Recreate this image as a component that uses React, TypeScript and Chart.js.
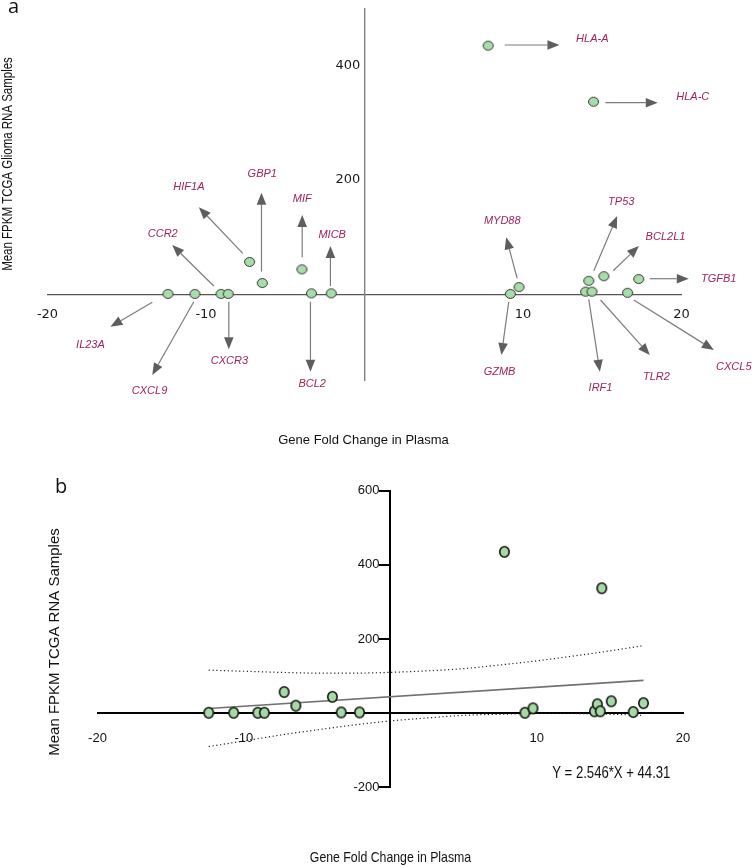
import React, { useEffect, useRef } from 'react';
import { Chart, registerables } from 'chart.js';
Chart.register(...registerables);

// ---------- data ----------
const genes = ['IL23A', 'CXCL9', 'CCR2', 'CXCR3', 'HIF1A', 'GBP1', 'MIF', 'BCL2', 'MICB', 'GZMB', 'MYD88', 'IRF1', 'TP53', 'TLR2', 'BCL2L1', 'CXCL5', 'TGFB1', 'HLA-A', 'HLA-C'];
const foldChange = [-12.4, -10.7, -9.05, -8.6, -7.25, -6.45, -3.95, -3.35, -2.1, 9.2, 9.75, 13.95, 14.15, 14.35, 15.1, 16.6, 17.3, 7.8, 14.45];
const fpkm = [1, 1, 1, 1, 57, 20, 44, 2, 2, 1, 13, 5, 24, 5, 32, 3, 27, 435, 337];

// linear fit and 95% band
const fitX = [-12.4, 17.3];
const fitY = [12.7, 88.4];
const bandX = [-12.4, -10, -7.5, -5, -2.5, 0, 2.5, 5, 7.5, 10, 12.5, 15, 17.3];
const bandUpper = [116, 113, 110, 108, 108, 110, 114, 120, 130, 141, 154, 168, 182];
const bandLower = [-90, -75, -59, -45, -32, -21, -13, -6, -3, -1, -1, -3, -6];
const fitEquation = 'Y = 2.546*X + 44.31';

const aXTicks = [-20, -10, 10, 20];
const aYTicks = [200, 400];
const bXTicks = [-20, -10, 10, 20];
const bYTicks = [-200, 200, 400, 600];

const xTitle = 'Gene Fold Change in Plasma';
const aYTitle = 'Mean FPKM TCGA Glioma RNA Samples';
const bYTitle = 'Mean FPKM TCGA RNA Samples';

// arrow annotations of panel a, in data units (fold change, FPKM)
const arrowGenes = ['IL23A', 'CXCL9', 'CCR2', 'CXCR3', 'HIF1A', 'GBP1', 'MIF', 'MICB', 'BCL2', 'MYD88', 'GZMB', 'TP53', 'BCL2L1', 'TGFB1', 'CXCL5', 'TLR2', 'IRF1', 'HLA-A', 'HLA-C'];
const arrowFrom = [[-13.39, -13.6], [-10.77, -12.6], [-9.51, 14.9], [-8.56, -12.6], [-7.68, 72], [-6.5, 40], [-3.93, 65], [-2.15, 14.9], [-3.41, -12.6], [9.63, 28.3], [9.1, -12.6], [14.47, 41.6], [15.69, 41.6], [18.0, 27.6], [16.99, -9.6], [14.89, -9.6], [14.15, -8.4], [8.85, 436.2], [15.2, 335.3]];
const arrowTo = [[-16.03, -56.3], [-13.39, -140.7], [-12.13, 86.5], [-8.56, -95.8], [-10.45, 152.4], [-6.5, 178], [-3.93, 139], [-2.15, 84.8], [-3.41, -135], [8.94, 100], [8.64, -105.8], [15.94, 137.2], [17.31, 84.8], [20.46, 27.6], [22.04, -97], [18.0, -105.8], [14.85, -135], [12.3, 436.2], [18.5, 335.3]];
const labelAt = [[-17.29, -88.3], [-13.56, -168.2], [-12.73, 105.8], [-8.52, -115.7], [-11.08, 187.4], [-6.45, 210.7], [-3.93, 166.4], [-2.04, 104], [-3.3, -156.5], [8.69, 129], [8.52, -135], [16.2, 161.2], [18.99, 101], [22.35, 26.6], [23.3, -126], [18.42, -143.7], [14.89, -164], [14.37, 446.2], [20.71, 345.8]];

// ---------- helpers ----------
let narrowOK: boolean | null = null;
function detectNarrow(): boolean {
  if (narrowOK !== null) return narrowOK;
  const c = document.createElement('canvas');
  const g = c.getContext('2d')!;
  g.font = "20px 'Liberation Sans Narrow', monospace";
  const a = g.measureText('Gene Fold Change').width;
  g.font = '20px monospace';
  const b = g.measureText('Gene Fold Change').width;
  narrowOK = Math.abs(a - b) > 0.5;
  return narrowOK;
}

function drawText(ctx: CanvasRenderingContext2D, text: string, x: number, y: number, font: string, narrow: boolean, rot = 0, color = '#111') {
  ctx.save();
  ctx.translate(x, y);
  if (rot) ctx.rotate(rot);
  ctx.fillStyle = color;
  ctx.textAlign = 'center';
  ctx.textBaseline = 'middle';
  if (narrow) {
    if (detectNarrow()) {
      ctx.font = font.replace('FAMILY', "'Liberation Sans Narrow'");
    } else {
      ctx.font = font.replace('FAMILY', "'Liberation Sans'");
      ctx.scale(0.82, 1);
    }
  } else {
    ctx.font = font.replace('FAMILY', "'Liberation Sans'");
  }
  ctx.fillText(text, 0, 0);
  ctx.restore();
}

function drawArrow(ctx: CanvasRenderingContext2D, x1: number, y1: number, x2: number, y2: number) {
  const ang = Math.atan2(y2 - y1, x2 - x1);
  const hl = 12, hw = 4.8;
  const bx = x2 - hl * Math.cos(ang), by = y2 - hl * Math.sin(ang);
  ctx.save();
  ctx.strokeStyle = '#7c7c7c';
  ctx.lineWidth = 1.2;
  ctx.beginPath();
  ctx.moveTo(x1, y1);
  ctx.lineTo(bx, by);
  ctx.stroke();
  ctx.fillStyle = '#5e5e5e';
  ctx.beginPath();
  ctx.moveTo(x2, y2);
  ctx.lineTo(bx - hw * Math.sin(ang), by + hw * Math.cos(ang));
  ctx.lineTo(bx + hw * Math.sin(ang), by - hw * Math.cos(ang));
  ctx.closePath();
  ctx.fill();
  ctx.restore();
}

function ellipseMarker(w: number, h: number, fill: string, stroke: string, lw: number) {
  const c = document.createElement('canvas');
  c.width = w + 2;
  c.height = h + 2;
  const g = c.getContext('2d')!;
  g.beginPath();
  g.ellipse(c.width / 2, c.height / 2, w / 2 - lw / 2, h / 2 - lw / 2, 0, 0, Math.PI * 2);
  g.fillStyle = fill;
  g.fill();
  g.lineWidth = lw;
  g.strokeStyle = stroke;
  g.stroke();
  return c;
}

const zeroPad = (s: any) => {
  s.paddingLeft = 0; s.paddingRight = 0; s.paddingTop = 0; s.paddingBottom = 0;
};

const points = () => foldChange.map((x, i) => ({ x, y: fpkm[i] }));

// ---------- panel a annotations ----------
const annotA = {
  id: 'annotA',
  afterDraw(chart: any) {
    const ctx: CanvasRenderingContext2D = chart.ctx;
    const xs = chart.scales.x, ys = chart.scales.y;
    arrowGenes.forEach((g, i) => {
      drawArrow(ctx, xs.getPixelForValue(arrowFrom[i][0]), ys.getPixelForValue(arrowFrom[i][1]),
        xs.getPixelForValue(arrowTo[i][0]), ys.getPixelForValue(arrowTo[i][1]));
      ctx.save();
      ctx.font = "italic 11px 'Liberation Sans'";
      ctx.fillStyle = '#a3215f';
      ctx.textAlign = 'center';
      ctx.textBaseline = 'middle';
      ctx.fillText(g, xs.getPixelForValue(labelAt[i][0]), ys.getPixelForValue(labelAt[i][1]));
      ctx.restore();
    });
    ctx.save();
    ctx.font = "20px 'Open Sans'";
    ctx.fillStyle = '#111';
    ctx.textAlign = 'left';
    ctx.textBaseline = 'alphabetic';
    ctx.fillText('a', 8, 13);
    ctx.restore();
    drawText(ctx, aYTitle, 8, 164, '14px FAMILY', true, -Math.PI / 2);
    drawText(ctx, xTitle, 363.5, 440, '13px FAMILY', false);
  },
};

// ---------- panel b annotations ----------
const annotB = {
  id: 'annotB',
  afterDraw(chart: any) {
    const ctx: CanvasRenderingContext2D = chart.ctx;
    const xs = chart.scales.x, ys = chart.scales.y;
    ctx.save();
    ctx.font = "20px 'Open Sans'";
    ctx.fillStyle = '#111';
    ctx.textAlign = 'left';
    ctx.textBaseline = 'alphabetic';
    ctx.fillText('b', 55, 23);
    ctx.restore();
    drawText(ctx, bYTitle, 55, 172, '15px FAMILY', false, -Math.PI / 2);
    drawText(ctx, xTitle, 390.5, 388, '15px FAMILY', true);
    drawText(ctx, fitEquation, xs.getPixelForValue(15.1), ys.getPixelForValue(-164), '16px FAMILY', true);
  },
};

export default function App() {
  const refA = useRef<HTMLCanvasElement>(null);
  const refB = useRef<HTMLCanvasElement>(null);

  useEffect(() => {
    const narrow = detectNarrow();
    const bTickFont = narrow ? { family: "'Liberation Sans Narrow'", size: 15 } : { family: "'Liberation Sans'", size: 13 };
    const markerA = ellipseMarker(11, 10, '#a9dcab', '#333', 1);
    const markerB = ellipseMarker(11, 12, '#a7d9a6', '#111', 1.6);

    const chartA = new Chart(refA.current!, {
      type: 'scatter',
      data: {
        datasets: [{
          data: points(),
          pointStyle: markerA as any,
          pointRadius: 5.5,
          pointHoverRadius: 5.5,
        }],
      },
      options: {
        responsive: false,
        animation: false,
        devicePixelRatio: 1,
        events: [],
        layout: { padding: { left: 47.5, right: 70.5, top: 8.5, bottom: 89.7 } },
        plugins: { legend: { display: false }, tooltip: { enabled: false } },
        scales: {
          x: {
            type: 'linear', min: -20, max: 20, position: { y: 0 } as any,
            grid: { display: false, drawTicks: false },
            border: { display: true, color: '#555', width: 1.3 },
            ticks: { padding: 12, autoSkip: false, maxRotation: 0, color: '#1a1a1a', font: { family: "'DejaVu Sans'", size: 13 } },
            afterBuildTicks: (s: any) => { s.ticks = aXTicks.map((v) => ({ value: v })); },
            afterFit: zeroPad,
          },
          y: {
            type: 'linear', min: -150, max: 500, position: { x: 0 } as any,
            grid: { display: false, drawTicks: false },
            border: { display: true, color: '#808080', width: 1.4 },
            ticks: { autoSkip: false, color: '#1a1a1a', font: { family: "'DejaVu Sans'", size: 13 }, callback: (v: any) => v + ' ' },
            afterBuildTicks: (s: any) => { s.ticks = aYTicks.map((v) => ({ value: v })); },
            afterFit: zeroPad,
          },
        },
      },
      plugins: [annotA],
    });

    const chartB = new Chart(refB.current!, {
      type: 'scatter',
      data: {
        datasets: [
          {
            data: points(),
            pointStyle: markerB as any,
            pointRadius: 6,
            pointHoverRadius: 6,
            order: 0,
          },
          {
            data: fitX.map((x, i) => ({ x, y: fitY[i] })),
            showLine: true,
            borderColor: '#707070',
            borderWidth: 1.6,
            pointRadius: 0,
            order: 2,
          },
          {
            data: bandX.map((x, i) => ({ x, y: bandUpper[i] })),
            showLine: true,
            borderColor: '#222',
            borderWidth: 1.2,
            borderDash: [1.2, 2.6],
            cubicInterpolationMode: 'monotone',
            pointRadius: 0,
            order: 3,
          },
          {
            data: bandX.map((x, i) => ({ x, y: bandLower[i] })),
            showLine: true,
            borderColor: '#222',
            borderWidth: 1.2,
            borderDash: [1.2, 2.6],
            cubicInterpolationMode: 'monotone',
            pointRadius: 0,
            order: 3,
          },
        ],
      },
      options: {
        responsive: false,
        animation: false,
        devicePixelRatio: 1,
        events: [],
        layout: { padding: { left: 97.5, right: 69, top: 20.7, bottom: 80.7 } },
        plugins: { legend: { display: false }, tooltip: { enabled: false } },
        scales: {
          x: {
            type: 'linear', min: -20, max: 20, position: { y: 0 } as any,
            grid: { display: false, drawTicks: false },
            border: { display: true, color: '#000', width: 2 },
            ticks: { padding: 17, autoSkip: false, maxRotation: 0, color: '#111', font: bTickFont },
            afterBuildTicks: (s: any) => { s.ticks = bXTicks.map((v) => ({ value: v })); },
            afterFit: zeroPad,
          },
          y: {
            type: 'linear', min: -200, max: 600, position: { x: 0 } as any,
            grid: { display: true, drawOnChartArea: false, drawTicks: true, tickLength: 10, color: '#000', lineWidth: 2 },
            border: { display: true, color: '#000', width: 2 },
            ticks: { autoSkip: false, color: '#111', font: bTickFont, callback: (v: any) => v + '   ' },
            afterBuildTicks: (s: any) => { s.ticks = bYTicks.map((v) => ({ value: v })); },
            afterFit: zeroPad,
          },
        },
      },
      plugins: [annotB],
    });

    return () => {
      chartA.destroy();
      chartB.destroy();
    };
  }, []);

  return (
    <div style={{ position: 'absolute', left: 0, top: 0, width: 752, height: 868, background: '#fff' }}>
      <canvas ref={refA} width={752} height={470} style={{ position: 'absolute', left: 0, top: 0, width: 752, height: 470 }} />
      <canvas ref={refB} width={752} height={398} style={{ position: 'absolute', left: 0, top: 470, width: 752, height: 398 }} />
    </div>
  );
}
